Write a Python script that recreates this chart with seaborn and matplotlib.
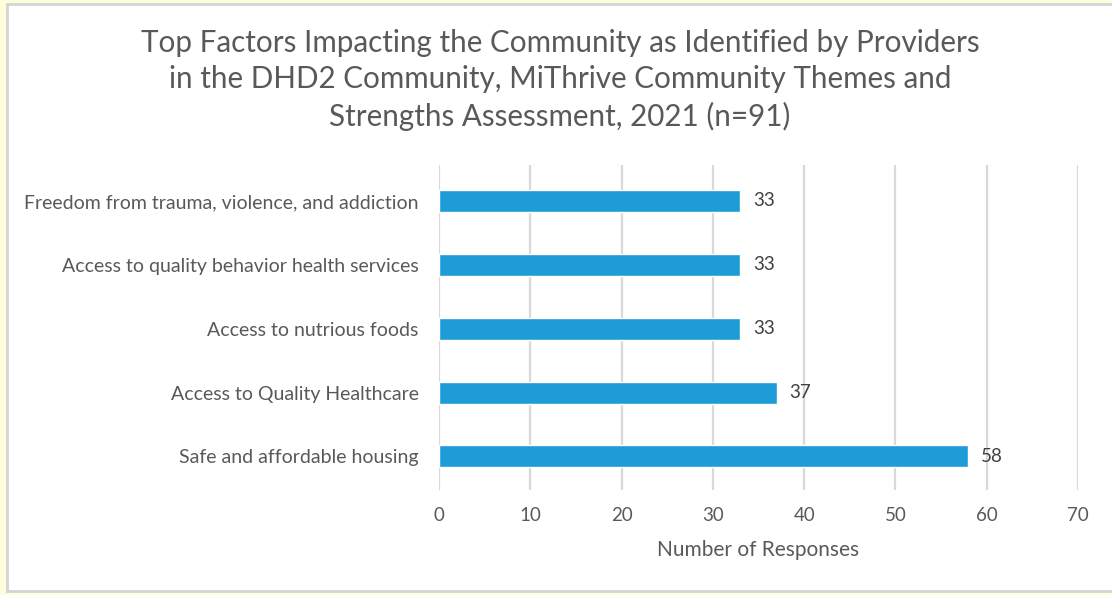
import matplotlib
matplotlib.use("Agg")
import matplotlib.pyplot as plt
from matplotlib.patches import Rectangle
import seaborn as sns
import pandas as pd

factors = [
    "Freedom from trauma, violence, and addiction",
    "Access to quality behavior health services",
    "Access to nutrious foods",
    "Access to Quality Healthcare",
    "Safe and affordable housing",
]
responses = [33, 33, 33, 37, 58]
x_ticks = [0, 10, 20, 30, 40, 50, 60, 70]

title = ("Top Factors Impacting the Community as Identified by Providers\n"
         "in the DHD2 Community, MiThrive Community Themes and\n"
         "Strengths Assessment, 2021 (n=91)")

sns.set_theme(style="white")
plt.rcParams["font.family"] = ["Lato", "DejaVu Sans"]

text_color = "#595959"
grid_color = "#D9D9D9"
bar_color = "#1E9CD7"

W, H = 1112, 595
fig = plt.figure(figsize=(W / 100, H / 100), dpi=100, facecolor="#FEFEDC")

# white chart panel with a light grey frame, kept behind the axes
panel = Rectangle((7 / W, 1 - 591 / H), 1.2, (591 - 4) / H,
                  transform=fig.transFigure, facecolor="white",
                  edgecolor="#D4D4D4", linewidth=2.0, zorder=-5)
fig.patches.append(panel)

ax = fig.add_axes([439 / W, 1 - 490 / H, (1078 - 439) / W, (490 - 165) / H])
ax.set_facecolor("none")

df = pd.DataFrame({"factor": factors, "responses": responses})
sns.barplot(data=df, x="responses", y="factor", orient="h", color=bar_color,
            saturation=1, width=0.345, ax=ax, zorder=3)

ax.set_xlim(0, 70)
ax.set_ylim(4.525, -0.563)
ax.set_xticks(x_ticks)
ax.xaxis.grid(True, color=grid_color, linewidth=1.6, zorder=0)
ax.yaxis.grid(False)
ax.set_axisbelow(True)
for s in ax.spines.values():
    s.set_visible(False)

ax.tick_params(axis="x", length=0, pad=12, labelsize=13.5, labelcolor=text_color)
ax.tick_params(axis="y", length=0, pad=14.5, labelsize=14, labelcolor=text_color)
ax.set_ylabel("")
ax.set_xlabel("Number of Responses", fontsize=15, color=text_color, labelpad=12)

for c in ax.containers:
    ax.bar_label(c, labels=[str(v) for v in responses], padding=9,
                 fontsize=13.5, color="#404040")

fig.text(560 / W, 1 - 80 / H, title, ha="center", va="center",
         fontsize=21.3, color=text_color, linespacing=1.36)

fig.savefig("out.png", dpi=100, facecolor=fig.get_facecolor())
